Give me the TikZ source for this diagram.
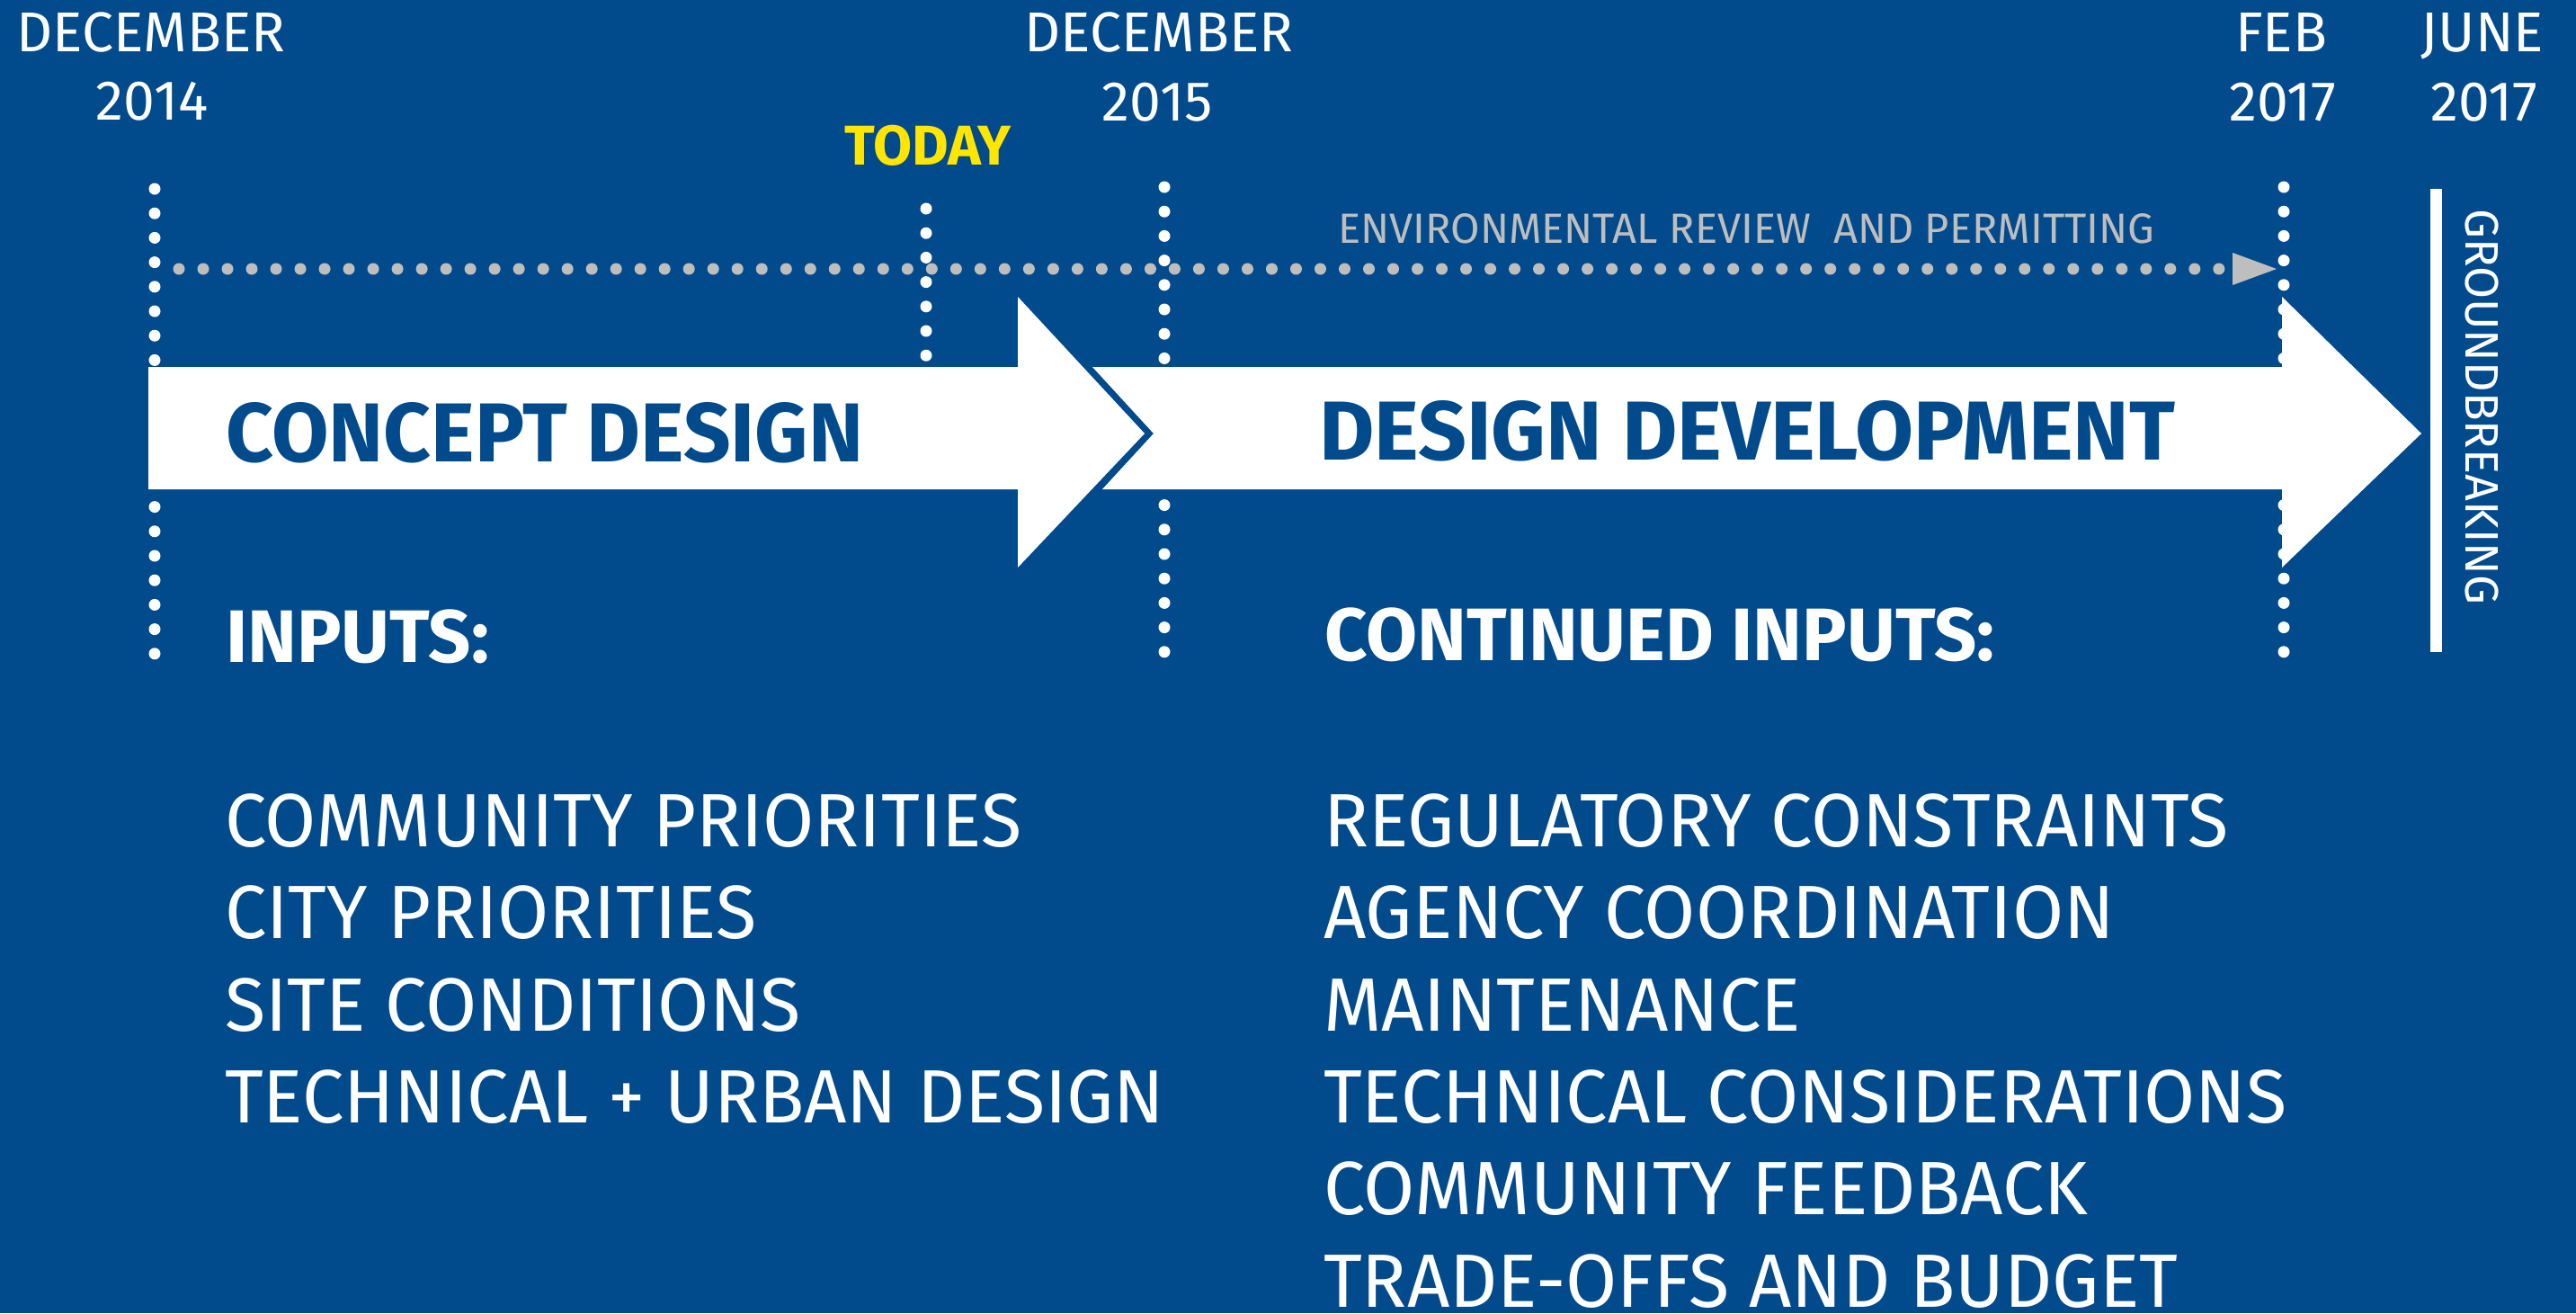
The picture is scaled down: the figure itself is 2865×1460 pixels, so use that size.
\documentclass[tikz,border=0pt]{standalone}
\usepackage{fontspec}
\setmainfont{Fira Sans}
\newfontfamily\txtfont{Fira Sans}
\newfontfamily\itemfont[FakeStretch=0.985]{Fira Sans}
\newfontfamily\phaseAfont[FakeStretch=0.99]{Fira Sans}
\newfontfamily\phaseBfont[FakeStretch=1.014]{Fira Sans}
\definecolor{bgblue}{RGB}{1,75,141}
\definecolor{envgray}{RGB}{190,190,190}
\definecolor{todayyellow}{RGB}{255,229,0}
\begin{document}
\begin{tikzpicture}[x=1pt,y=-1pt,
  vdots/.style={white, line width=13pt, line cap=round, dash pattern=on 0pt off 27.2pt},
  hdots/.style={envgray, line width=13pt, line cap=round, dash pattern=on 0pt off 27.01pt},
  datelbl/.style={text=white, inner sep=0pt, anchor=base, font=\txtfont\fontsize{62.4}{62.4}\selectfont},
  phase/.style={text=bgblue, inner sep=0pt, anchor=base west},
  head/.style={text=white, inner sep=0pt, anchor=base west, font=\txtfont\bfseries\fontsize{82.7}{82.7}\selectfont},
  item/.style={text=white, inner sep=0pt, anchor=base west, font=\itemfont\fontsize{84}{84}\selectfont},
  arrowbox/.style={fill=white, draw=none}]
\useasboundingbox (0,0) rectangle (2865,1460);
\fill[bgblue] (0,0) rectangle (2865,1460);

% date labels
\node[datelbl] (dec14) at (168,57) {DECEMBER};
\node[datelbl] (y2014) at (169,133) {2014};
\node[datelbl, text=todayyellow, font=\txtfont\bfseries\fontsize{62.4}{62.4}\selectfont] (today) at (1032,183) {TODAY};
\node[datelbl] (dec15) at (1289,57) {DECEMBER};
\node[datelbl] (y2015) at (1287,134) {2015};
\node[datelbl] (feb) at (2537,57) {FEB};
\node[datelbl] (y2017a) at (2539,134) {2017};
\node[datelbl] (june) at (2761,57) {JUNE};
\node[datelbl] (y2017b) at (2763,134) {2017};

% vertical dotted lines
\coordinate (l14t) at (172,210); \coordinate (l14b) at (172,727);
\coordinate (ltdt) at (1030,232); \coordinate (ltdb) at (1030,405);
\coordinate (l15t) at (1295,208); \coordinate (l15b) at (1295,725);
\coordinate (l17t) at (2540,208); \coordinate (l17b) at (2540,725);
\draw[vdots] (l14t) -- (l14b);
\draw[vdots] (ltdt) -- (ltdb);
\draw[vdots] (l15t) -- (l15b);
\draw[vdots] (l17t) -- (l17b);

% environmental review line
\node[text=envgray, inner sep=0pt, anchor=base west, font=\txtfont\fontsize{47}{47}\selectfont] (env) at (1488,270) {ENVIRONMENTAL REVIEW\ \ AND PERMITTING};
\coordinate (envs) at (199,299); \coordinate (enve) at (2468,299);
\draw[hdots] (envs) -- (enve);
\coordinate (envtip) at (2532,299);
\fill[envgray] (2483,281) -- (envtip) -- (2483,317) -- cycle;

% arrows
\fill[arrowbox] (1215,408) -- (2538,408) -- (2538,330) -- (2693,482) -- (2538,631) -- (2538,544) -- (1226,544) -- (1283,482) -- cycle;
\fill[arrowbox] (165,408) -- (1132,408) -- (1132,330) -- (1273,482) -- (1132,631) -- (1132,544) -- (165,544) -- cycle;
\node[phase, font=\phaseAfont\bfseries\fontsize{93}{93}\selectfont] (concept) at (251,513) {CONCEPT DESIGN};
\node[phase, font=\phaseBfont\bfseries\fontsize{93}{93}\selectfont] (develop) at (1467,511) {DESIGN DEVELOPMENT};

% groundbreaking
\coordinate (gbt) at (2709.5,210); \coordinate (gbb) at (2709.5,725);
\draw[white, line width=13pt] (gbt) -- (gbb);
\node[text=white, inner sep=0pt, anchor=base west, rotate=-90, font=\txtfont\fontsize{52.2}{52.2}\selectfont] (gb) at (2742,232) {GROUNDBREAKING};

% inputs
\node[head] (inputs) at (251,736) {INPUTS:};
\node[head] (cinputs) at (1473,734) {CONTINUED INPUTS:};

\node[item] (i1) at (250,941) {COMMUNITY PRIORITIES};
\node[item] (i2) at (250,1043) {CITY PRIORITIES};
\node[item] (i3) at (250,1146) {SITE CONDITIONS};
\node[item] (i4) at (250,1248) {TECHNICAL + URBAN DESIGN};

\node[item] (c1) at (1472,941) {REGULATORY CONSTRAINTS};
\node[item] (c2) at (1472,1043) {AGENCY COORDINATION};
\node[item] (c3) at (1472,1146) {MAINTENANCE};
\node[item] (c4) at (1472,1248) {TECHNICAL CONSIDERATIONS};
\node[item] (c5) at (1472,1350) {COMMUNITY FEEDBACK};
\node[item] (c6) at (1472,1453) {TRADE-OFFS AND BUDGET};
\end{tikzpicture}
\end{document}
